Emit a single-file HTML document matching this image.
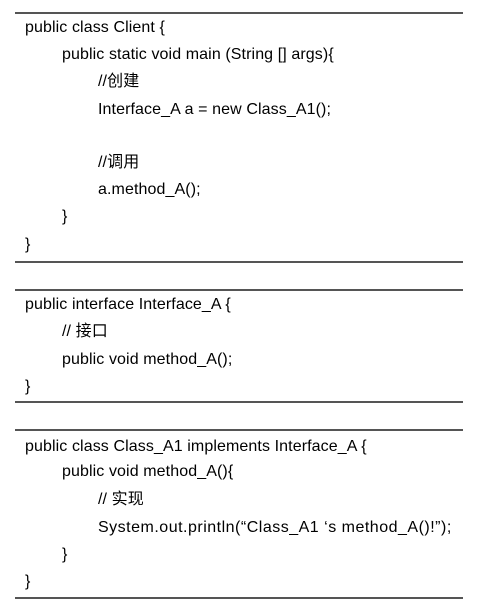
<!DOCTYPE html>
<html><head><meta charset="utf-8"><style>
body{margin:0;width:498px;height:611px;background:#fff;position:relative;overflow:hidden;font-family:"Liberation Sans","Noto Sans CJK SC",sans-serif;font-size:16px;letter-spacing:0.1px;color:#000;}
.r{position:absolute;left:15px;width:448px;height:2px;background:#555;}
.l{position:absolute;white-space:pre;line-height:18px;}
</style></head><body>
<div class="r" style="top:12px"></div>
<div class="l" style="left:25px;top:19px">public class Client {</div>
<div class="l" style="left:62px;top:46px">public static void main (String [] args){</div>
<div class="l" style="left:98px;top:73px">//创建</div>
<div class="l" style="left:98px;top:101px">Interface_A a = new Class_A1();</div>
<div class="l" style="left:98px;top:154px">//调用</div>
<div class="l" style="left:98px;top:181px">a.method_A();</div>
<div class="l" style="left:62px;top:208px">}</div>
<div class="l" style="left:25px;top:236px">}</div>
<div class="r" style="top:261px"></div>
<div class="r" style="top:289px"></div>
<div class="l" style="left:25px;top:296px">public interface Interface_A {</div>
<div class="l" style="left:62px;top:323px">// 接口</div>
<div class="l" style="left:62px;top:351px">public void method_A();</div>
<div class="l" style="left:25px;top:378px">}</div>
<div class="r" style="top:401px"></div>
<div class="r" style="top:429px"></div>
<div class="l" style="left:25px;top:438px">public class Class_A1 implements Interface_A {</div>
<div class="l" style="left:62px;top:463px">public void method_A(){</div>
<div class="l" style="left:98px;top:491px">// 实现</div>
<div class="l" style="left:98px;top:519px;letter-spacing:0.5px">System.out.println(“Class_A1 ‘s method_A()!”);</div>
<div class="l" style="left:62px;top:546px">}</div>
<div class="l" style="left:25px;top:573px">}</div>
<div class="r" style="top:597px"></div>
</body></html>
